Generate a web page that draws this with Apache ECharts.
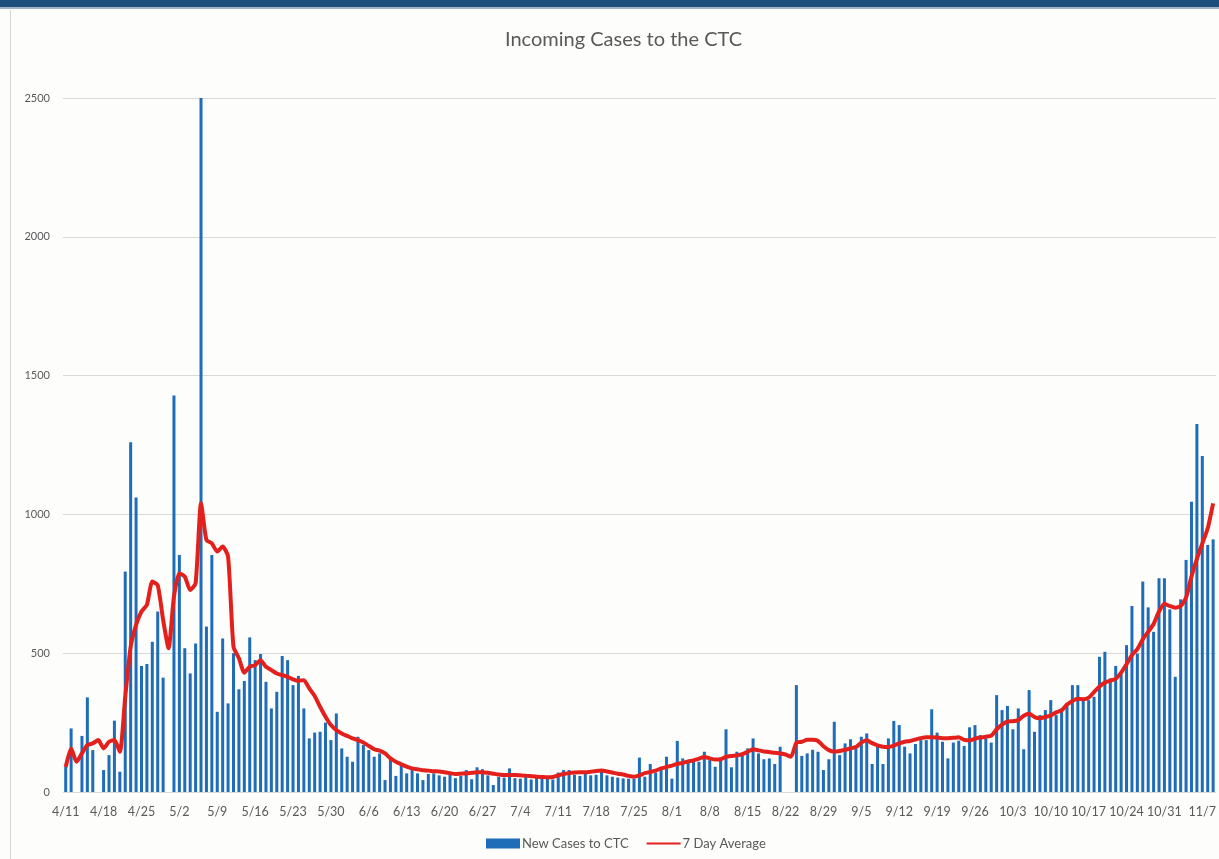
<!DOCTYPE html>
<html>
<head>
<meta charset="utf-8">
<script src="https://cdn.jsdelivr.net/npm/echarts@6/dist/echarts.min.js"></script>
<style>
html,body{margin:0;padding:0;background:#fdfdfc;}
#chart{width:1219px;height:859px;}
</style>
</head>
<body>
<div id="chart"></div>
<script>
// Daily new cases (from 4/11), null = no bar that day
const newCases = [
  91, 229, null, 202, 341, 151, null, 79, 133, 257,
  73, 794, 1260, 1061, 454, 461, 541, 650, 412, null,
  1428, 854, 518, 427, 535, 2500, 596, 854, 289, 553,
  319, 500, 370, 400, 557, 475, 497, 397, 301, 361,
  490, 475, 385, 418, 301, 193, 214, 217, 250, 187,
  283, 157, 127, 109, 199, 169, 151, 127, 139, 43,
  121, 58, 94, 67, 82, 67, 43, 65, 67, 60,
  55, 62, 50, 58, 79, 46, 89, 82, 60, 25,
  55, 52, 85, 50, 48, 55, 45, 52, 50, 48,
  45, 70, 79, 79, 62, 58, 65, 60, 62, 82,
  60, 55, 52, 49, 48, 48, 124, 55, 101, 70,
  79, 127, 48, 184, 121, 115, 109, 109, 145, 115,
  91, 115, 226, 89, 145, 139, 157, 193, 139, 118,
  121, 101, 163, null, null, 385, 130, 139, 152, 145,
  79, 118, 253, 133, 175, 190, 157, 199, 211, 101,
  163, 101, 193, 256, 241, 163, 139, 173, 187, 187,
  298, 214, 181, 121, 178, 185, 166, 233, 241, 205,
  193, 178, 349, 295, 310, 226, 301, 154, 367, 217,
  277, 295, 331, 277, 301, 319, 385, 385, 337, 331,
  343, 487, 505, 409, 454, 427, 529, 670, 499, 758,
  665, 577, 770, 770, 658, 415, 694, 836, 1046, 1326,
  1210, 890, 910
];
// 7 day average line
const sevenDayAvg = [
  90, 157, 109, 139, 169, 175, 187, 157, 181, 187,
  145, 343, 523, 602, 650, 674, 758, 745, 620, 518,
  704, 788, 776, 728, 752, 1040, 908, 896, 866, 884,
  848, 523, 482, 430, 451, 457, 475, 451, 439, 427,
  421, 415, 406, 401, 403, 373, 346, 307, 271, 241,
  223, 211, 202, 193, 187, 178, 166, 154, 149, 139,
  121, 109, 100, 91, 85, 82, 78, 77, 75, 74,
  71, 68, 65, 66, 67, 69, 71, 71, 69, 66,
  63, 61, 61, 61, 60, 59, 57, 55, 54, 53,
  54, 60, 65, 68, 70, 71, 71, 73, 76, 77,
  74, 70, 66, 63, 58, 55, 60, 68, 72, 77,
  85, 90, 95, 101, 105, 110, 114, 120, 126, 121,
  117, 118, 127, 130, 132, 136, 145, 154, 150, 146,
  144, 141, 139, 135, 127, 178, 181, 188, 188, 184,
  165, 151, 146, 148, 152, 157, 162, 178, 186, 176,
  168, 163, 162, 167, 175, 181, 184, 189, 194, 197,
  197, 196, 194, 194, 195, 197, 188, 186, 192, 196,
  199, 203, 226, 243, 254, 255, 259, 275, 282, 270,
  266, 270, 276, 287, 294, 315, 328, 336, 334, 340,
  360, 380, 394, 401, 408, 430, 460, 493, 515, 550,
  577, 605, 650, 678, 670, 664, 670, 700, 776, 840,
  895, 950, 1040
];
const startMonth = 4, startDay = 11, startYear = 2020;
const yTicks = [0, 500, 1000, 1500, 2000, 2500];

// category labels: one per day from the start date
const categories = [];
for (let i = 0; i < newCases.length; i++) {
  const d = new Date(startYear, startMonth - 1, startDay + i);
  categories.push((d.getMonth() + 1) + '/' + d.getDate());
}

const font = 'Lato, "Open Sans", sans-serif';
const chart = echarts.init(document.getElementById('chart'), null, {renderer: 'canvas'});
chart.setOption({
  backgroundColor: '#fdfdfc',
  animation: false,
  graphic: [
    {type: 'rect', left: 0, top: 0, shape: {width: 1219, height: 7}, style: {fill: '#1d4f7d'}, silent: true},
    {type: 'rect', left: 0, top: 7, shape: {width: 1219, height: 2}, style: {fill: '#9fb3c8'}, silent: true},
    {type: 'line', shape: {x1: 10.5, y1: 10, x2: 10.5, y2: 859}, style: {stroke: '#d4d4d4', lineWidth: 1}, silent: true}
  ],
  title: {
    text: 'Incoming Cases to the CTC',
    left: 500,
    top: 25,
    textStyle: {fontFamily: font, fontSize: 20, fontWeight: 'normal', color: '#595959'}
  },
  legend: {
    bottom: 4,
    left: 481,
    itemWidth: 34,
    itemHeight: 10,
    itemGap: 17,
    textStyle: {fontFamily: font, fontSize: 13, color: '#595959', padding: [0, 0, 0, -3]},
    data: [
      {name: 'New Cases to CTC', icon: 'rect'},
      {name: '7 Day Average', itemStyle: {opacity: 0}}
    ]
  },
  grid: {left: 63, right: 1, top: 98, bottom: 67, containLabel: false},
  xAxis: {
    type: 'category',
    data: categories,
    boundaryGap: true,
    axisLine: {show: true, lineStyle: {color: '#d9d9d9'}},
    axisTick: {show: false},
    axisLabel: {interval: 6, fontFamily: font, fontSize: 12.5, color: '#595959', margin: 13}
  },
  yAxis: {
    type: 'value',
    min: yTicks[0],
    max: yTicks[yTicks.length - 1],
    interval: 500,
    axisLine: {show: false},
    axisTick: {show: false},
    splitLine: {lineStyle: {color: '#d9d9d9', width: 1}},
    axisLabel: {fontFamily: font, fontSize: 11, color: '#595959', margin: 13, formatter: function (v) { return String(v); }}
  },
  series: [
    {
      name: 'New Cases to CTC',
      type: 'bar',
      data: newCases,
      barWidth: 3,
      itemStyle: {color: '#1f6db8'}
    },
    {
      name: '7 Day Average',
      type: 'line',
      data: sevenDayAvg,
      symbol: 'none',
      smooth: 0.2,
      lineStyle: {color: '#e3201b', width: 4},
      itemStyle: {color: '#e3201b'},
      z: 5
    }
  ]
});
</script>
</body>
</html>
